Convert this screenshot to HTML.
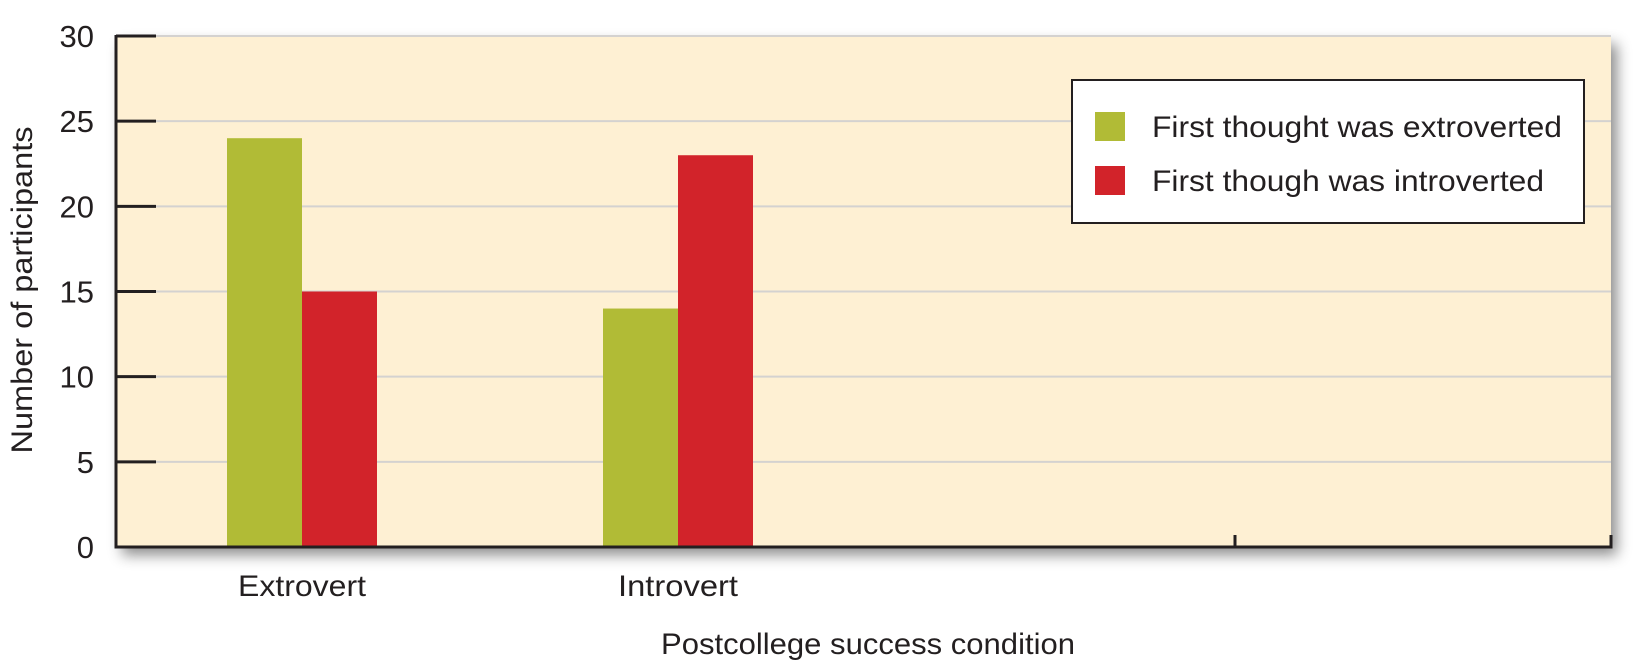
<!DOCTYPE html>
<html><head><meta charset="utf-8"><style>
html,body{margin:0;padding:0;background:#fff;width:1646px;height:660px;overflow:hidden}
svg{display:block}
text{font-family:"Liberation Sans",sans-serif;fill:#231f20}
</style></head><body>
<svg id="chart" width="1646" height="660" viewBox="0 0 1646 660">
<defs><filter id="sh" x="-5%" y="-5%" width="115%" height="130%"><feDropShadow dx="6" dy="8" stdDeviation="7" flood-color="#000" flood-opacity="0.45"/></filter></defs>
<rect x="116" y="36" width="1495" height="511" fill="#fef0d3" filter="url(#sh)"/>
<g id="grid"></g><g id="bars"></g><g id="axes"></g>
<text transform="translate(32,290) rotate(-90)" text-anchor="middle" font-size="30" textLength="327" lengthAdjust="spacingAndGlyphs">Number of participants</text>
<text x="868" y="654" text-anchor="middle" font-size="30" textLength="414" lengthAdjust="spacingAndGlyphs">Postcollege success condition</text>
<g>
<rect x="1072" y="80" width="512" height="143" fill="#fff" stroke="#231f20" stroke-width="2"/>
<rect x="1095" y="112" width="30" height="29" fill="#b1bb36"/>
<text x="1152" y="137" font-size="30" textLength="410" lengthAdjust="spacingAndGlyphs">First thought was extroverted</text>
<rect x="1095" y="166" width="30" height="29" fill="#d2232a"/>
<text x="1152" y="191" font-size="30" textLength="392" lengthAdjust="spacingAndGlyphs">First though was introverted</text>
</g>
</svg>
<script>
const categories=["Extrovert","Introvert"];
const seriesExtroverted=[24,14];
const seriesIntroverted=[15,23];
const yTicks=[0,5,10,15,20,25,30];
const ns="http://www.w3.org/2000/svg";
const X0=116,X1=1611,Y0=547,Y1=36,YMAX=30;
const y=v=>Y0-(v/YMAX)*(Y0-Y1);
const catX=i=>302+i*376;
const BW=75;
function mk(t,a,p){const e=document.createElementNS(ns,t);for(const k in a)e.setAttribute(k,a[k]);p.appendChild(e);return e;}
const grid=document.getElementById('grid'),bars=document.getElementById('bars'),axes=document.getElementById('axes');
yTicks.forEach(v=>{
 if(v>0){const g=mk('line',{x1:X0,x2:X1,y1:y(v),y2:y(v),stroke:'#d4d2d0','stroke-width':2},grid);
 
 }
 const t=mk('line',{x1:X0,x2:X0+40,y1:y(v),y2:y(v),stroke:'#231f20','stroke-width':3},axes);
 
 
 const l=mk('text',{x:94,y:y(v)+11,'text-anchor':'end','font-size':31},axes);l.textContent=v;
 
 
});
categories.forEach((c,i)=>{
 const cx=catX(i);
 const g=mk('rect',{x:cx-BW,y:y(seriesExtroverted[i]),width:BW,height:Y0-y(seriesExtroverted[i]),fill:'#b1bb36'},bars);
 
 
 const r=mk('rect',{x:cx,y:y(seriesIntroverted[i]),width:BW,height:Y0-y(seriesIntroverted[i]),fill:'#d2232a'},bars);
 
 
 const l=mk('text',{x:cx,y:596,'text-anchor':'middle','font-size':30,textLength:i===0?128:120,lengthAdjust:'spacingAndGlyphs'},axes);l.textContent=c;
 
 
});
const ya=mk('line',{x1:X0,x2:X0,y1:Y1-1,y2:Y0+1.5,stroke:'#231f20','stroke-width':3},axes);


const xa=mk('line',{x1:X0-1.5,x2:X1+1.5,y1:Y0,y2:Y0,stroke:'#231f20','stroke-width':3},axes);


[1235,X1].forEach(x=>{const t=mk('line',{x1:x,x2:x,y1:Y0-12,y2:Y0,stroke:'#231f20','stroke-width':3},axes);
 
 });
</script>
</body></html>
